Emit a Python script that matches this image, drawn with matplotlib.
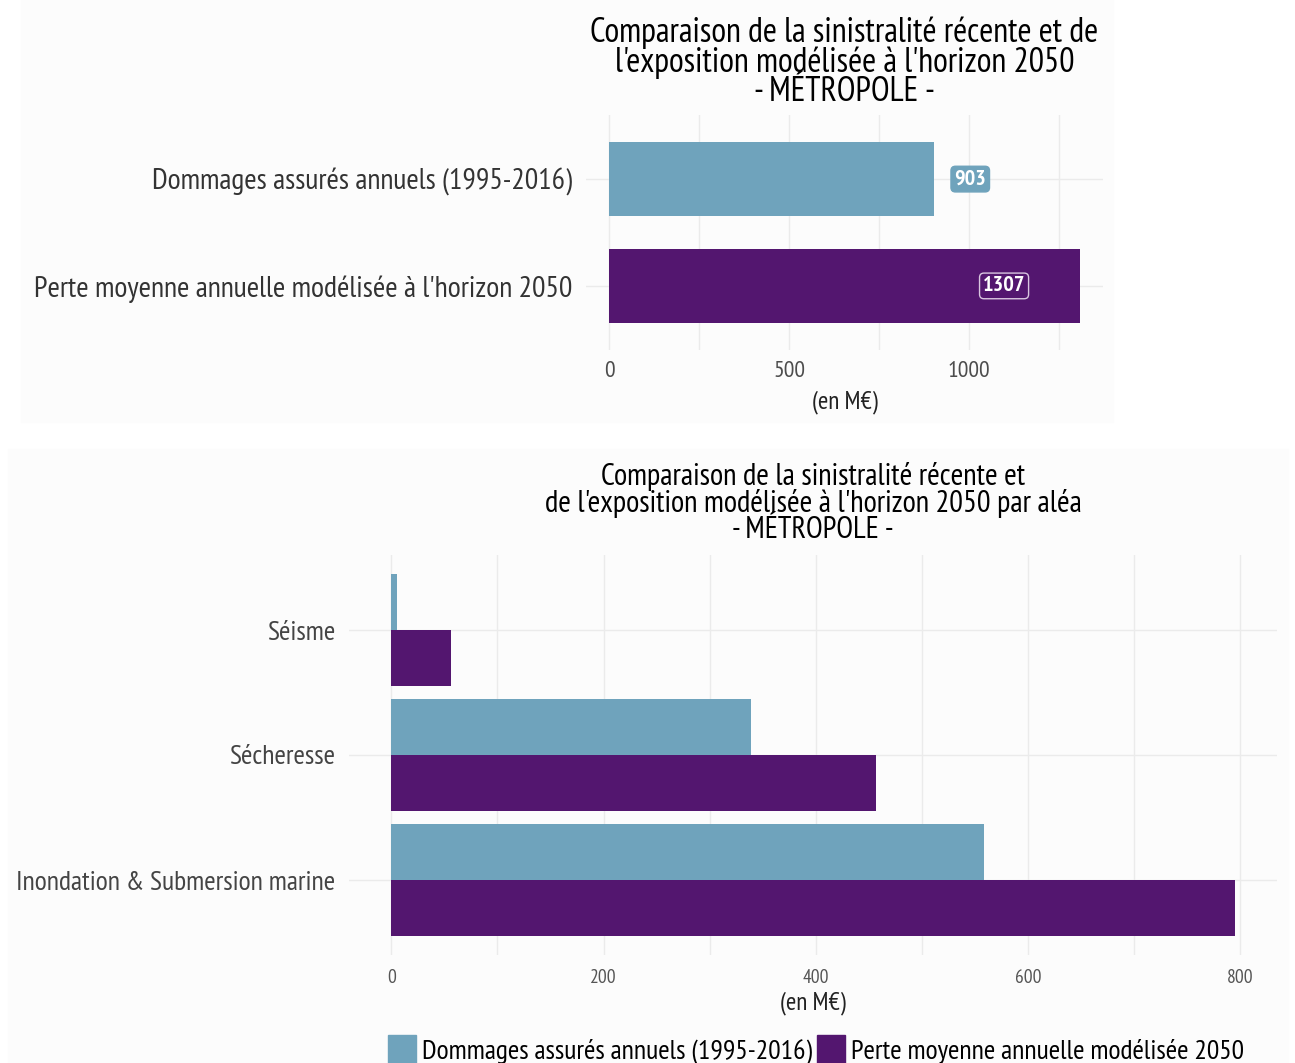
import matplotlib
matplotlib.use("Agg")
import matplotlib.pyplot as plt
from matplotlib.patches import Patch, Rectangle
from matplotlib.ticker import MultipleLocator

plt.rcParams["font.family"] = ["PT Sans Narrow", "DejaVu Sans"]

# ---- data ---------------------------------------------------------------
top_labels = ["Dommages assurés annuels (1995-2016)",
              "Perte moyenne annuelle modélisée à l'horizon 2050"]
top_values = [903, 1307]

perils = ["Inondation & Submersion marine", "Sécheresse", "Séisme"]
dommages = [559, 339, 5]
perte = [795, 457, 56]

legend_labels = ["Dommages assurés annuels (1995-2016)",
                 "Perte moyenne annuelle modélisée 2050"]

BLUE = "#6fa3bc"
PURPLE = "#53166f"
GRID = "#ebebeb"
W, H = 1295, 1063


def px_axes(fig, left, top, right, bottom):
    return fig.add_axes([left / W, 1 - bottom / H, (right - left) / W, (bottom - top) / H])


fig = plt.figure(figsize=(W / 100, H / 100), dpi=100)
fig.patches.append(Rectangle((21 / W, 1 - 422 / H), 1092 / W, 422 / H,
                             transform=fig.transFigure, color="#fcfcfc", zorder=-10))
fig.patches.append(Rectangle((8 / W, 0), 1280 / W, 1 - 449 / H,
                             transform=fig.transFigure, color="#fcfcfc", zorder=-10))

# ---- (a) total comparison ----------------------------------------------
ax1 = px_axes(fig, 586, 115, 1103, 350)
ypos = [1, 0]
ax1.barh(ypos, top_values, height=0.7, color=[BLUE, PURPLE], zorder=2)
ax1.set_xlim(-65, 1372)
ax1.set_ylim(-0.6, 1.6)
ax1.set_yticks(ypos)
ax1.set_yticklabels(top_labels, fontsize=21.5, color="#333333")
ax1.xaxis.set_major_locator(MultipleLocator(500))
ax1.xaxis.set_minor_locator(MultipleLocator(250))
ax1.tick_params(axis="x", labelsize=17, colors="#4d4d4d", length=0, pad=8)
ax1.tick_params(axis="y", length=0, pad=10)
ax1.tick_params(which="minor", length=0)
ax1.grid(True, which="both", color=GRID, lw=1.0, zorder=0)
ax1.set_xlabel("(en M€)", fontsize=18, color="#222222", labelpad=6)
ax1.set_title("Comparaison de la sinistralité récente et de\n"
              "l'exposition modélisée à l'horizon 2050\n- MÉTROPOLE -",
              fontsize=24.5, color="#000000", linespacing=0.9, pad=10)
# value labels
ax1.text(top_values[0] + 100, ypos[0], str(top_values[0]), ha="center", va="center",
         fontsize=16, color="white", fontweight="bold", zorder=3,
         bbox=dict(boxstyle="round,pad=0.15,rounding_size=0.2", fc=BLUE, ec=BLUE))
ax1.text(top_values[1] - 210, ypos[1], str(top_values[1]), ha="center", va="center",
         fontsize=16, color="white", fontweight="bold", zorder=3,
         bbox=dict(boxstyle="round,pad=0.15,rounding_size=0.2", fc=PURPLE, ec="#d9c6e0"))
for s in ax1.spines.values():
    s.set_visible(False)
ax1.set_facecolor("none")

# ---- (b) by peril -------------------------------------------------------
ax2 = px_axes(fig, 349, 555, 1277, 955)
y = list(range(len(perils)))
bh = 0.45
ax2.barh([v + bh / 2 for v in y], dommages, height=bh, color=BLUE, zorder=2)
ax2.barh([v - bh / 2 for v in y], perte, height=bh, color=PURPLE, zorder=2)
ax2.set_xlim(-40, 835)
ax2.set_ylim(-0.6, 2.6)
ax2.set_yticks(y)
ax2.set_yticklabels(perils, fontsize=20, color="#444444")
ax2.xaxis.set_major_locator(MultipleLocator(200))
ax2.xaxis.set_minor_locator(MultipleLocator(100))
ax2.tick_params(axis="x", labelsize=14, colors="#555555", length=0, pad=10)
ax2.tick_params(axis="y", length=0, pad=10)
ax2.tick_params(which="minor", length=0)
ax2.grid(True, which="both", color=GRID, lw=1.0, zorder=0)
ax2.set_xlabel("(en M€)", fontsize=18, color="#222222", labelpad=3)
ax2.set_title("Comparaison de la sinistralité récente et\n"
              "de l'exposition modélisée à l'horizon 2050 par aléa\n- MÉTROPOLE -",
              fontsize=22, color="#000000", linespacing=0.92, pad=12)
for s in ax2.spines.values():
    s.set_visible(False)
ax2.set_facecolor("none")

handles = [Patch(color=BLUE), Patch(color=PURPLE)]
fig.legend(handles, legend_labels, loc="center", ncol=2, frameon=False,
           bbox_to_anchor=(816 / W, 1 - 1050 / H), fontsize=20,
           handlelength=1.0, handleheight=1.2, handletextpad=0.2, columnspacing=0.2)

fig.savefig("out.png", dpi=100)
